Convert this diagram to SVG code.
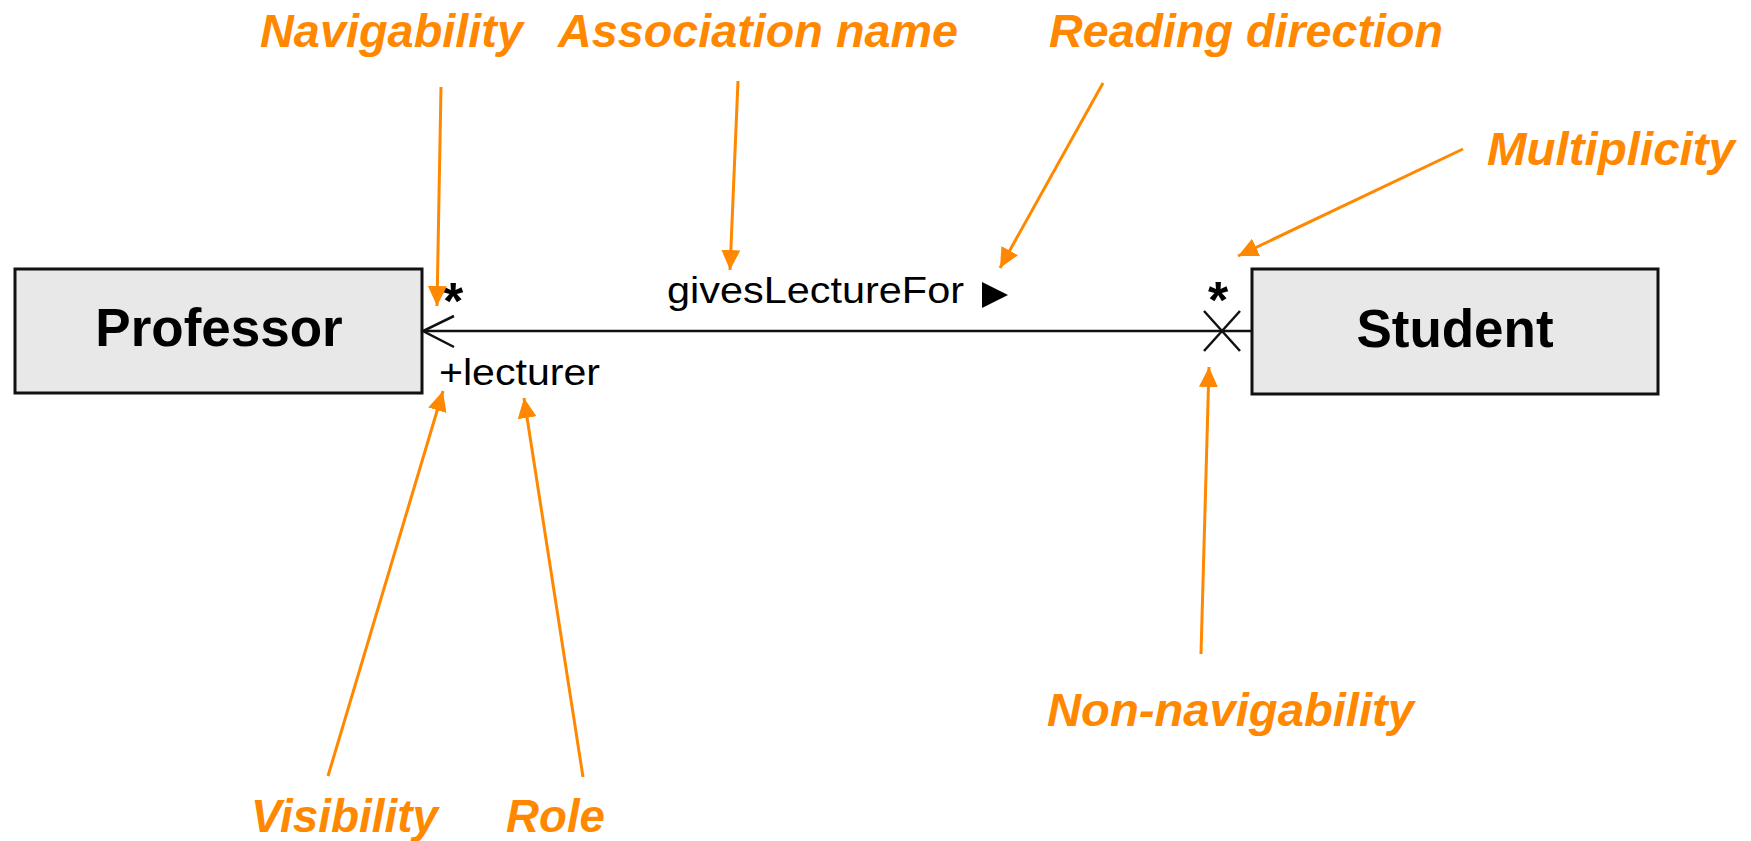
<svg xmlns="http://www.w3.org/2000/svg" width="1751" height="841" viewBox="0 0 1751 841">
<style>
.box{fill:#e8e8e8;stroke:#111;stroke-width:3}
.cls{font-family:"Liberation Sans",Arial,sans-serif;font-weight:bold;font-size:53px;fill:#000;text-anchor:middle}
.small{font-family:"Liberation Sans",Arial,sans-serif;font-size:36px;fill:#000}
.star{font-family:"Liberation Sans",Arial,sans-serif;font-weight:bold;font-size:52px;fill:#000}
.lbl{font-family:"Liberation Sans",Arial,sans-serif;font-weight:bold;font-style:italic;font-size:47px;fill:#ff8800}
.ann{stroke:#ff8800;stroke-width:3;fill:none}
.assoc{stroke:#111;stroke-width:2.5;fill:none}
</style>
<defs>
<marker id="oa" markerUnits="userSpaceOnUse" markerWidth="22" markerHeight="22" viewBox="0 0 22 22" refX="20" refY="11" orient="auto">
<path d="M0,1.5 L20,11 L0,20.5 Z" fill="#ff8800"/>
</marker>
</defs>
<g id="professor">
<rect class="box" x="15" y="269" width="407" height="124"/>
<text class="cls" x="219" y="346">Professor</text>
</g>
<g id="student">
<rect class="box" x="1252" y="269" width="406" height="125"/>
<text class="cls" x="1455" y="347">Student</text>
</g>
<g id="connectors">
<line class="assoc" x1="422" y1="331" x2="1252" y2="331"/>
<polyline class="assoc" points="454,316 423,331 454,347"/>
<line class="assoc" x1="1204" y1="311" x2="1240" y2="351"/>
<line class="assoc" x1="1240" y1="311" x2="1204" y2="351"/>
</g>
<g id="assoc-labels">
<text class="star" x="443" y="319">*</text>
<text class="star" x="1208" y="318">*</text>
<text class="small" x="667" y="303" textLength="297" lengthAdjust="spacingAndGlyphs">givesLectureFor</text>
<polygon points="982,282 1008,295 982,308" fill="#000"/>
<text class="small" x="439" y="385" textLength="161" lengthAdjust="spacingAndGlyphs">+lecturer</text>
</g>
<g id="annotations">
<line class="ann" x1="441" y1="87" x2="437" y2="306" marker-end="url(#oa)"/>
<line class="ann" x1="738" y1="81" x2="730" y2="270" marker-end="url(#oa)"/>
<line class="ann" x1="1103" y1="83" x2="1000" y2="268" marker-end="url(#oa)"/>
<line class="ann" x1="1463" y1="149" x2="1238" y2="256" marker-end="url(#oa)"/>
<line class="ann" x1="1201" y1="654" x2="1209" y2="367" marker-end="url(#oa)"/>
<line class="ann" x1="328" y1="776" x2="443" y2="391" marker-end="url(#oa)"/>
<line class="ann" x1="583" y1="777" x2="524" y2="398" marker-end="url(#oa)"/>
<text class="lbl" x="260" y="47" textLength="263" lengthAdjust="spacingAndGlyphs">Navigability</text>
<text class="lbl" x="558" y="47" textLength="400" lengthAdjust="spacingAndGlyphs">Association name</text>
<text class="lbl" x="1049" y="47" textLength="394" lengthAdjust="spacingAndGlyphs">Reading direction</text>
<text class="lbl" x="1487" y="165" textLength="248" lengthAdjust="spacingAndGlyphs">Multiplicity</text>
<text class="lbl" x="1047" y="726" textLength="367" lengthAdjust="spacingAndGlyphs">Non-navigability</text>
<text class="lbl" x="251" y="832" textLength="187" lengthAdjust="spacingAndGlyphs">Visibility</text>
<text class="lbl" x="506" y="832" textLength="99" lengthAdjust="spacingAndGlyphs">Role</text>
</g>
</svg>
